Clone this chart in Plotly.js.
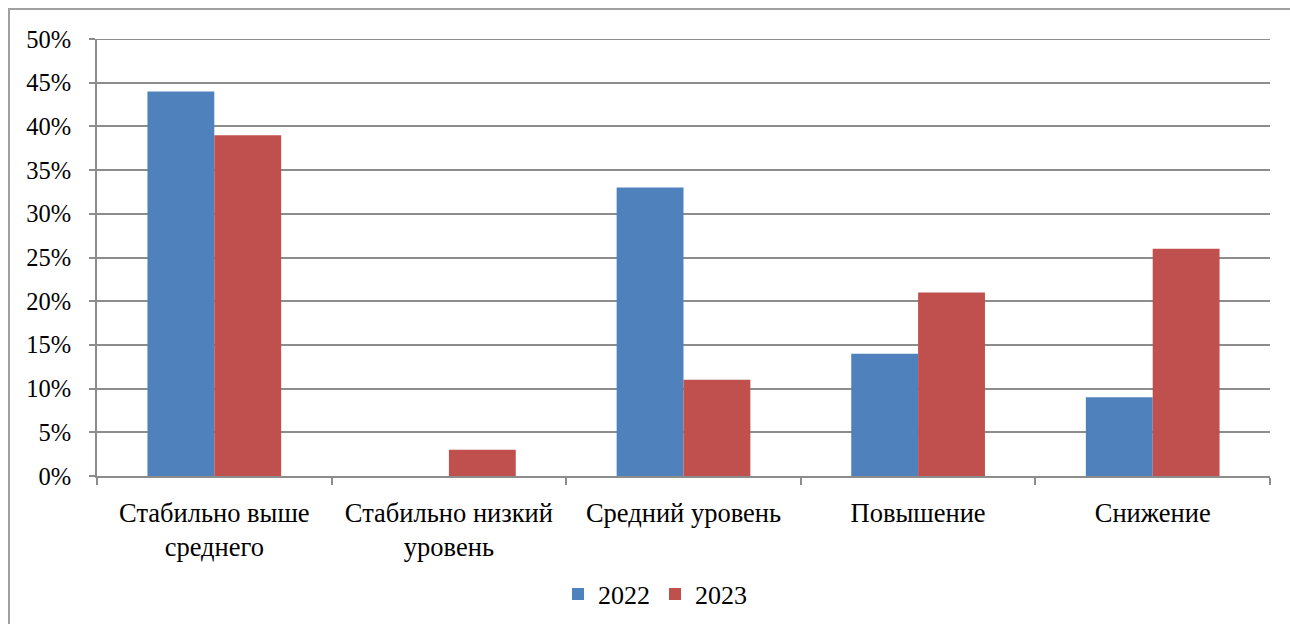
<!DOCTYPE html>
<html><head><meta charset="utf-8">
<script src="https://cdn.plot.ly/plotly-3.0.1.min.js"></script>
<style>html,body{margin:0;padding:0;background:#fff;}#chart{width:1290px;height:624px;}</style>
</head><body><div id="chart"></div>
<script>
var categories = ["Стабильно выше<br>среднего", "Стабильно низкий<br>уровень", "Средний уровень", "Повышение", "Снижение"];
var series2022 = [0.44, 0.00, 0.33, 0.14, 0.09];
var series2023 = [0.39, 0.03, 0.11, 0.21, 0.26];
var seriesNames = ["2022", "2023"];
var yTicks = [0, 0.05, 0.10, 0.15, 0.20, 0.25, 0.30, 0.35, 0.40, 0.45, 0.50];

function mkFont(sz){ return {family: "Liberation Serif", size: sz, color: "#000000"}; }
var data = [
  {type: "bar", name: seriesNames[0], x: categories, y: series2022, marker: {color: "#4f81bd"}},
  {type: "bar", name: seriesNames[1], x: categories, y: series2023, marker: {color: "#c0504d"}}
];
var L = 97, R = 1270, T = 39, B = 476;
var W = R - L, H = B - T;
function px(x){return (x - L)/W;}
function py(y){return (B - y)/H;}
var layout = {
  width: 1290, height: 624,
  margin: {l: L, r: 1290 - R, t: T, b: 624 - B, autoexpand: false},
  paper_bgcolor: "#fff", plot_bgcolor: "#fff",
  font: mkFont(24),
  barmode: "group", bargap: 0.43, bargroupgap: 0,
  showlegend: true,
  legend: {orientation: "h", x: px(655), xanchor: "center", y: py(594), yanchor: "middle", font: mkFont(26), itemwidth: 30, traceorder: "normal"},
  xaxis: {type: "category", showgrid: false, showline: true, linecolor: "#8c8c8c", linewidth: 2,
          ticks: "outside", tickson: "boundaries", ticklen: 7, tickcolor: "#8c8c8c", tickwidth: 2,
          tickfont: mkFont(26.5), ticklabelstandoff: 12, automargin: false},
  yaxis: {range: [0, 0.5], tickvals: yTicks, tickformat: ".0%", showgrid: true, gridcolor: "#8c8c8c", gridwidth: 2,
          showline: true, linecolor: "#8c8c8c", linewidth: 2, ticks: "outside", ticklen: 6, tickcolor: "#8c8c8c", tickwidth: 2,
          tickfont: mkFont(24.5), ticklabelstandoff: 13, zeroline: false, automargin: false},
  shapes: [
    {type: "rect", xref: "paper", yref: "paper", x0: px(9), x1: px(1296), y0: py(630), y1: py(9),
     line: {color: "#a0a0a0", width: 2}, fillcolor: "rgba(0,0,0,0)", layer: "below"},
    {type: "line", xref: "paper", yref: "y", x0: 0, x1: 1, y0: yTicks[yTicks.length-1], y1: yTicks[yTicks.length-1],
     line: {color: "#8c8c8c", width: 2}, layer: "below"}
  ]
};
var cfg = {displayModeBar: false, staticPlot: true};
var drawn = false;
function draw(){
  if (drawn) return;
  drawn = true;
  Plotly.newPlot("chart", data, layout, cfg);
}
if (document.fonts && document.fonts.load) {
  document.fonts.load('24px "Liberation Serif"', "Стабильно 2022 50%").then(draw, draw);
  setTimeout(draw, 1500);
} else {
  draw();
}
</script></body></html>
